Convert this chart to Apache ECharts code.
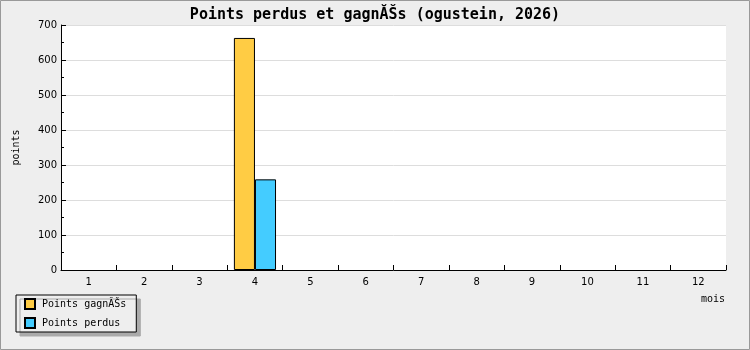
<!DOCTYPE html>
<html>
<head>
<meta charset="utf-8">
<script src="https://cdn.jsdelivr.net/npm/echarts@6/dist/echarts.min.js"></script>
<style>
html,body{margin:0;padding:0;background:#eeeeee;}
#c{width:750px;height:350px;}
</style>
</head>
<body>
<div id="c"></div>
<script>
const titleText = 'Points perdus et gagnĂŠs (ogustein, 2026)';
const months = ['1','2','3','4','5','6','7','8','9','10','11','12'];
const gagnes = [0, 0, 0, 663, 0, 0, 0, 0, 0, 0, 0, 0];
const perdus = [0, 0, 0, 259, 0, 0, 0, 0, 0, 0, 0, 0];
const seriesNames = ['Points gagnĂŠs', 'Points perdus'];
const yAxisName = 'points';
const xAxisName = 'mois';

// zero-height bars are not drawn in the reference
const noZero = arr => arr.map(v => (v === 0 ? '-' : v));

const chart = echarts.init(document.getElementById('c'), null, {renderer: 'canvas'});
const sans = 'DejaVu Sans';
const mono = 'DejaVu Sans Mono';
chart.setOption({
  animation: false,
  backgroundColor: '#eeeeee',
  title: {
    text: titleText,
    left: 'center',
    top: 3,
    textStyle: {fontFamily: mono, fontSize: 15, fontWeight: 'bold', color: '#000'}
  },
  graphic: [
    {type: 'rect', silent: true, z: 100,
     shape: {x: 0.5, y: 0.5, width: 749, height: 349},
     style: {fill: null, stroke: '#999999', lineWidth: 1}},
    {type: 'text', left: 701, top: 294,
     style: {text: xAxisName, font: '10px "DejaVu Sans Mono"', fill: '#000'}}
  ],
  legend: {
    orient: 'vertical',
    left: 16,
    top: 295,
    itemWidth: 10,
    itemHeight: 10,
    itemGap: 7,
    padding: [3, 10, 3, 8],
    icon: 'rect',
    backgroundColor: '#eeeeee',
    borderColor: '#000',
    borderWidth: 1,
    borderRadius: 0,
    shadowColor: '#aaaaaa',
    shadowBlur: 0,
    shadowOffsetX: 4,
    shadowOffsetY: 4,
    textStyle: {fontFamily: mono, fontSize: 10, color: '#000', padding: [0, 0, 0, 2]},
    data: seriesNames
  },
  grid: {
    left: 61, right: 24, top: 25, bottom: 80,
    show: true, backgroundColor: '#ffffff', borderWidth: 0
  },
  xAxis: {
    type: 'category',
    data: months,
    axisLine: {lineStyle: {color: '#000', width: 1}},
    axisTick: {show: true, inside: true, length: 5, lineStyle: {color: '#000'}},
    axisLabel: {fontFamily: sans, fontSize: 10, color: '#000', margin: 7},
    splitLine: {show: false}
  },
  yAxis: {
    type: 'value',
    min: 0, max: 700, interval: 100,
    name: yAxisName,
    nameLocation: 'middle',
    nameRotate: 90,
    nameGap: 40,
    nameTextStyle: {fontFamily: mono, fontSize: 10, color: '#000'},
    axisLine: {show: true, lineStyle: {color: '#000', width: 1}},
    axisTick: {show: true, inside: true, length: 5, lineStyle: {color: '#000'}},
    minorTick: {show: true, splitNumber: 2, length: 3, lineStyle: {color: '#000'}},
    axisLabel: {fontFamily: sans, fontSize: 10, color: '#000', margin: 4},
    splitLine: {show: true, lineStyle: {color: '#dddddd', width: 1}}
  },
  series: [
    {name: seriesNames[0], type: 'bar', data: noZero(gagnes), barGap: '0%', barCategoryGap: '24%',
     itemStyle: {color: '#ffcc44', borderColor: '#000', borderWidth: 1}},
    {name: seriesNames[1], type: 'bar', data: noZero(perdus), barGap: '0%', barCategoryGap: '24%',
     itemStyle: {color: '#44ccff', borderColor: '#000', borderWidth: 1}}
  ]
});
</script>
</body>
</html>
